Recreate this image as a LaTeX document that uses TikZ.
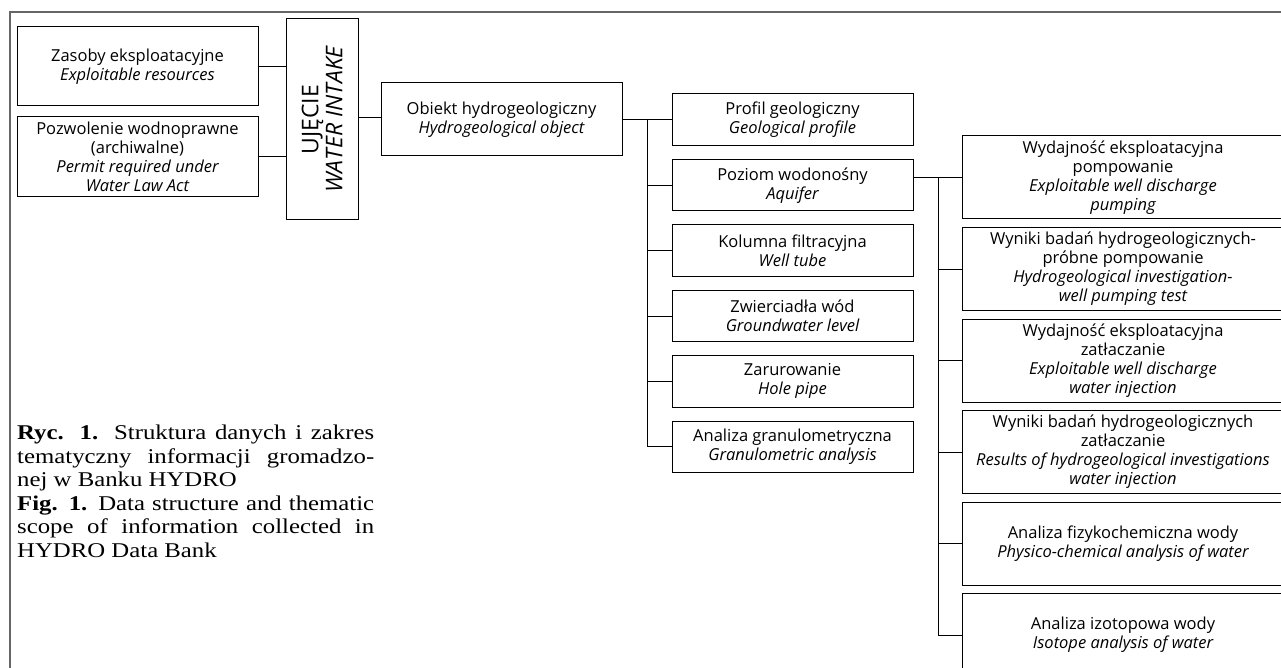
\documentclass[tikz,border=0pt]{standalone}
\usepackage{fontspec}
\setmainfont{Open Sans}
\newfontfamily\capfont{Liberation Serif}[FakeStretch=1.18]
\begin{document}
\begin{tikzpicture}[x=1pt,y=-1pt,
  box/.style={draw=black, line width=1pt, inner sep=0pt, align=center, font=\fontsize{16.5}{19}\selectfont},
  con/.style={draw=black, line width=1pt},
  frame/.style={draw=black!60, line width=1.4pt}]
\useasboundingbox (0,0) rectangle (1281,668);
\clip (0,0) rectangle (1281,668);
% frame
\coordinate (f1) at (1300,12);
\coordinate (f0) at (10,12);
\coordinate (f2) at (10,700);
\draw[frame] (f1) -- (f0) -- (f2);
% left column
\node[box, minimum width=241, minimum height=79] (A) at (137.5,66.5) {Zasoby eksploatacyjne\\\itshape Exploitable resources};
\node[box, minimum width=241, minimum height=80] (B) at (137.5,157) {Pozwolenie wodnoprawne\\(archiwalne)\\\itshape Permit required under\\\itshape Water Law Act};
\node[box, minimum width=72, minimum height=201] (U) at (322,119.5) {};
\node[rotate=90, align=center, inner sep=0pt, font=\fontsize{23}{24}\selectfont] (Ut) at (U.center) {UJĘCIE\\\itshape WATER INTAKE};
\node[box, minimum width=241, minimum height=73] (O) at (501.5,119.5) {Obiekt hydrogeologiczny\\\itshape Hydrogeological object};
% children
\node[box, minimum width=241, minimum height=51.5] (C1) at (792.5,119.75) {Profil geologiczny\\\itshape Geological profile};
\node[box, minimum width=241, minimum height=51.5] (C2) at (792.5,185.2) {Poziom wodonośny\\\itshape Aquifer};
\node[box, minimum width=241, minimum height=51.5] (C3) at (792.5,250.6) {Kolumna filtracyjna\\\itshape Well tube};
\node[box, minimum width=241, minimum height=51.5] (C4) at (792.5,316) {Zwierciadła wód\\\itshape Groundwater level};
\node[box, minimum width=241, minimum height=51.5] (C5) at (792.5,381.4) {Zarurowanie\\\itshape Hole pipe};
\node[box, minimum width=241, minimum height=51.5] (C6) at (792.5,446.8) {Analiza granulometryczna\\\itshape Granulometric analysis};
% right boxes
\node[box, minimum width=322, minimum height=83] (R1) at (1123,177.5) {Wydajność eksploatacyjna\\pompowanie\\\itshape Exploitable well discharge\\\itshape pumping};
\node[box, minimum width=322, minimum height=83] (R2) at (1123,269) {Wyniki badań hydrogeologicznych-\\próbne pompowanie\\\itshape Hydrogeological investigation-\\\itshape well pumping test};
\node[box, minimum width=322, minimum height=83] (R3) at (1123,360.5) {Wydajność eksploatacyjna\\zatłaczanie\\\itshape Exploitable well discharge\\\itshape water injection};
\node[box, minimum width=322, minimum height=83] (R4) at (1123,452) {Wyniki badań hydrogeologicznych\\zatłaczanie\\\itshape Results of hydrogeological investigations\\\itshape water injection};
\node[box, minimum width=322, minimum height=83] (R5) at (1123,543.5) {Analiza fizykochemiczna wody\\\itshape Physico-chemical analysis of water};
\node[box, minimum width=322, minimum height=83] (R6) at (1123,635) {Analiza izotopowa wody\\\itshape Isotope analysis of water};
% connectors
\draw[con] (A.east) -- (A.east -| U.west);
\draw[con] (B.east) -- (B.east -| U.west);
\draw[con] ([yshift=1.5pt]O.west -| U.east) -- ([yshift=1.5pt]O.west);
\coordinate (b1) at (647,120);
\draw[con] (O.east) -- (O.east -| b1) -- (b1 |- C6.west) -- (C6.west);
\foreach \c in {C1,C2,C3,C4,C5} \draw[con] (b1 |- \c.west) -- (\c.west);
\coordinate (b2) at (938,177.5);
\draw[con] (C2.east |- R1.west) -- (R1.west);
\draw[con] (b2) -- (b2 |- R6.west) -- (R6.west);
\foreach \r in {R2,R3,R4,R5} \draw[con] (b2 |- \r.west) -- (\r.west);
% caption
\node[anchor=north west, inner sep=0pt] (cap) at (17,425) {\begin{minipage}{357pt}\capfont\fontsize{21}{23.5}\selectfont\setlength{\parindent}{0pt}%
\textbf{Ryc. 1.} Struktura danych i zakres\linebreak tematyczny informacji gromadzo-\linebreak nej w Banku HYDRO\par
\textbf{Fig. 1.} Data structure and thematic\linebreak scope of information collected in\linebreak HYDRO Data Bank\end{minipage}};
\end{tikzpicture}
\end{document}
